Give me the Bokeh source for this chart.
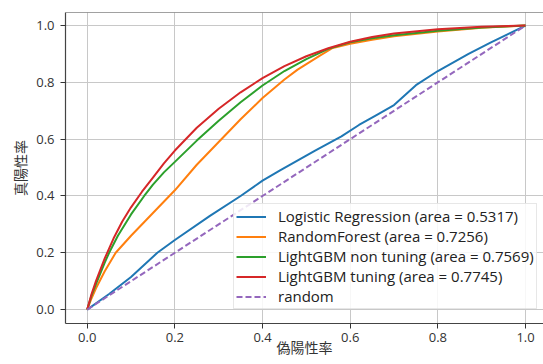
import math
from bokeh.plotting import figure
from bokeh.models import (Range1d, FixedTicker, PrintfTickFormatter, Legend,
                          LegendItem, Span)
from bokeh.embed import file_html
from bokeh.resources import INLINE

# ---- data ----
lr_fpr = [0, 0.05, 0.1, 0.16, 0.2, 0.28, 0.35, 0.4, 0.44, 0.52, 0.58, 0.62, 0.66,
          0.7, 0.75, 0.8, 0.87, 0.92, 0.96, 1.0]
lr_tpr = [0, 0.055, 0.115, 0.2, 0.245, 0.33, 0.40, 0.454, 0.49, 0.56, 0.61, 0.65,
          0.685, 0.72, 0.79, 0.84, 0.90, 0.94, 0.97, 1.0]

rf_fpr = [0, 0.01, 0.02, 0.04, 0.065, 0.1, 0.15, 0.2, 0.25, 0.3, 0.35, 0.4, 0.45,
          0.48, 0.53, 0.56, 0.6, 0.65, 0.7, 0.8, 0.9, 1.0]
rf_tpr = [0, 0.04, 0.075, 0.135, 0.2, 0.26, 0.34, 0.42, 0.51, 0.59, 0.67, 0.745, 0.81,
          0.845, 0.893, 0.921, 0.936, 0.95, 0.962, 0.979, 0.992, 1.0]

lgb_fpr = [0, 0.01, 0.02, 0.04, 0.05, 0.07, 0.1, 0.13, 0.15, 0.175, 0.2, 0.25, 0.3,
           0.35, 0.4, 0.45, 0.5, 0.55, 0.6, 0.65, 0.7, 0.8, 0.9, 1.0]
lgb_tpr = [0, 0.05, 0.09, 0.165, 0.2, 0.26, 0.335, 0.4, 0.44, 0.483, 0.52, 0.595, 0.665,
           0.73, 0.789, 0.84, 0.882, 0.918, 0.941, 0.955, 0.966, 0.982, 0.993, 1.0]

lgbt_fpr = [0, 0.01, 0.02, 0.04, 0.06, 0.08, 0.1, 0.125, 0.15, 0.175, 0.2, 0.25, 0.3,
            0.35, 0.4, 0.45, 0.5, 0.55, 0.6, 0.65, 0.7, 0.8, 0.9, 1.0]
lgbt_tpr = [0, 0.055, 0.1, 0.18, 0.25, 0.31, 0.36, 0.415, 0.465, 0.515, 0.56, 0.64, 0.707,
            0.765, 0.815, 0.857, 0.892, 0.92, 0.943, 0.96, 0.972, 0.987, 0.996, 1.0]

rand_fpr = [0, 1]
rand_tpr = [0, 1]

labels = ["Logistic Regression (area = 0.5317)",
          "RandomForest (area = 0.7256)",
          "LightGBM non tuning (area = 0.7569)",
          "LightGBM tuning (area = 0.7745)",
          "random"]
colors = ["#1f77b4", "#ff7f0e", "#2ca02c", "#d62728", "#9467bd"]

x_ticks = [0.0, 0.2, 0.4, 0.6, 0.8, 1.0]
y_ticks = [0.0, 0.2, 0.4, 0.6, 0.8, 1.0]
x_label = "偽陽性率"
y_label = "真陽性率"

CJK = "Noto Sans CJK JP"
LAT = "Open Sans"
x_lo, x_hi = -0.0495, 1.041
y_lo, y_hi = -0.049, 1.046

p = figure(width=543, height=364, output_backend="svg", toolbar_location=None,
           x_range=Range1d(x_lo, x_hi), y_range=Range1d(y_lo, y_hi),
           min_border_left=65, min_border_right=0, min_border_top=12,
           min_border_bottom=41)
p.outline_line_color = None
p.background_fill_color = "white"
p.border_fill_color = "white"

renderers = []
for xs, ys, c in [(lr_fpr, lr_tpr, colors[0]), (rf_fpr, rf_tpr, colors[1]),
                  (lgb_fpr, lgb_tpr, colors[2]), (lgbt_fpr, lgbt_tpr, colors[3])]:
    renderers.append(p.line(xs, ys, line_color=c, line_width=2))
renderers.append(p.line(rand_fpr, rand_tpr, line_color=colors[4], line_width=2,
                        line_dash="6 3"))

for ax, ticks in [(p.xaxis[0], x_ticks), (p.yaxis[0], y_ticks)]:
    ax.ticker = FixedTicker(ticks=ticks)
    ax.formatter = PrintfTickFormatter(format="%.1f")
    ax.minor_tick_line_color = None
    ax.major_tick_out = 5
    ax.major_tick_in = 0
    ax.major_tick_line_color = "#333333"
    ax.axis_line_color = "#444444"
    ax.axis_line_width = 1.2
    ax.major_label_text_font = LAT
    ax.major_label_text_font_size = "13px"
    ax.major_label_text_color = "#333333"
    ax.axis_label_text_font = CJK
    ax.axis_label_text_font_size = "14px"
    ax.axis_label_text_font_style = "normal"
    ax.axis_label_text_color = "#333333"
p.xaxis.major_label_standoff = 4
p.yaxis.major_label_standoff = 6
p.xaxis.axis_label = x_label
p.yaxis.axis_label = y_label
p.xaxis.axis_label_standoff = -8
p.yaxis.axis_label_standoff = 3

top_spine = Span(location=y_hi, dimension="width", line_color="#444444",
                 line_width=1.2)
p.add_layout(top_spine)

p.grid.grid_line_color = "#c8c8c8"
p.grid.grid_line_width = 1
p.xgrid.ticker = FixedTicker(ticks=x_ticks)
p.ygrid.ticker = FixedTicker(ticks=y_ticks)

legend = Legend(items=[LegendItem(label=l, renderers=[r]) for l, r in zip(labels, renderers)],
                location=(168, 14), margin=0, padding=2, spacing=0,
                glyph_width=30, glyph_height=19, label_height=19,
                label_standoff=12, label_text_font=LAT,
                label_text_font_size="15px", label_text_color="#222222",
                border_line_color="#d0d0d0", background_fill_alpha=0.85)
p.add_layout(legend)

open("out.html", "w").write(file_html(p, INLINE))
